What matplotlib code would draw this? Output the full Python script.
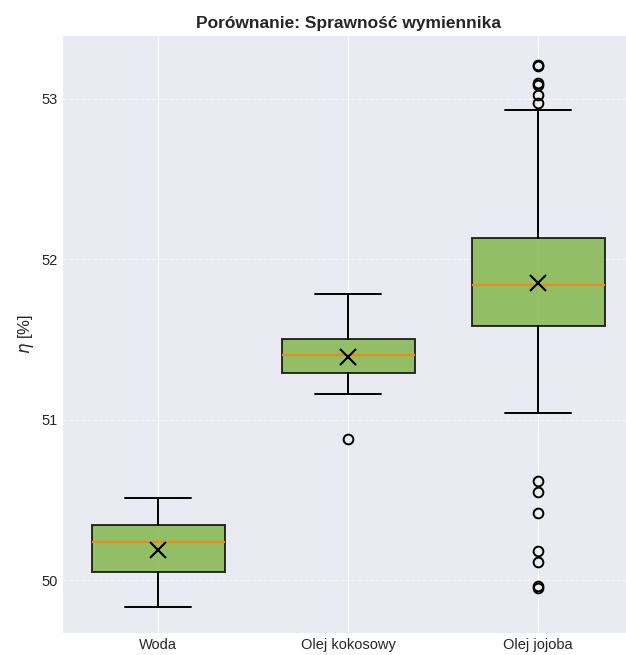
import matplotlib
matplotlib.use('Agg')
import matplotlib.pyplot as plt

plt.style.use('seaborn-v0_8-darkgrid')
plt.rcParams['font.family'] = ['Liberation Sans', 'DejaVu Sans']

# values
labels = ['Woda', 'Olej kokosowy', 'Olej jojoba']
medians = [50.24, 51.40, 51.84]
means = [50.19, 51.39, 51.85]
q1 = [50.05, 51.29, 51.58]
q3 = [50.34, 51.50, 52.13]
whisk_lo = [49.83, 51.16, 51.04]
whisk_hi = [50.51, 51.78, 52.93]
fliers = [
    [],
    [50.88],
    [53.21, 53.20, 53.10, 53.085, 53.02, 52.97,
     50.62, 50.55, 50.42, 50.18, 50.11, 49.96, 49.95],
]

stats = []
for i in range(len(labels)):
    stats.append({
        'label': labels[i],
        'med': medians[i],
        'mean': means[i],
        'q1': q1[i],
        'q3': q3[i],
        'whislo': whisk_lo[i],
        'whishi': whisk_hi[i],
        'fliers': fliers[i],
    })

fig = plt.figure(figsize=(6.26, 6.55), dpi=100)
ax = fig.add_axes([63 / 626, 22 / 655, 570 / 626, 597 / 655])

bp = ax.bxp(stats, widths=0.7, patch_artist=True, showmeans=True,
            meanprops=dict(marker='x', markeredgecolor='black', markersize=11,
                           markeredgewidth=1.5),
            medianprops=dict(color='#ee8a1c', linewidth=1.6),
            whiskerprops=dict(color='black', linewidth=1.4),
            capprops=dict(color='black', linewidth=1.4),
            flierprops=dict(marker='o', markerfacecolor='none',
                            markeredgecolor='black', markersize=7,
                            markeredgewidth=1.4))

for box in bp['boxes']:
    box.set_facecolor('#7cb342')
    box.set_edgecolor('black')
    box.set_linewidth(1.4)
    box.set_alpha(0.8)

ax.set_xlim(0.5, 3.5)
ax.set_ylim(49.67, 53.39)
ax.set_yticks([50, 51, 52, 53])
ax.tick_params(labelsize=10.5)
ax.yaxis.grid(True, linestyle='--', alpha=0.7)

ax.set_ylabel(r'$\eta$ [%]', fontsize=12)
ax.set_title('Porównanie: Sprawność wymiennika', fontsize=12.5, fontweight='bold')

fig.savefig('out.png', dpi=100)
plt.close()
